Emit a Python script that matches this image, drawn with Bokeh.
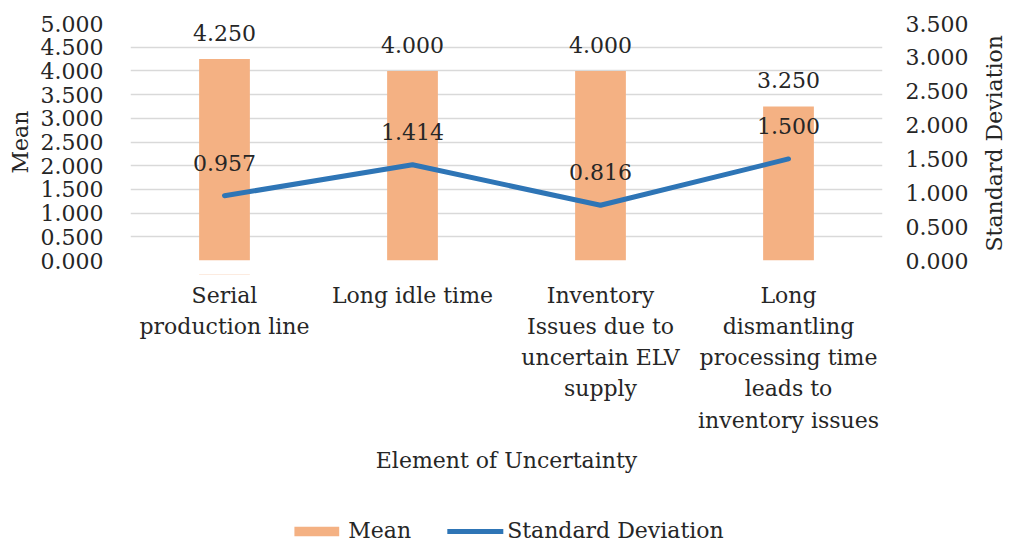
import math
from bokeh.plotting import figure
from bokeh.layouts import column, row
from bokeh.models import (ColumnDataSource, Range1d, LinearAxis, FactorRange, LabelSet,
                          Legend, LegendItem, FixedTicker, PrintfTickFormatter)
from bokeh.core.properties import value
from bokeh.embed import file_html
from bokeh.resources import INLINE

# ---- data ----
categories = [
    "Serial\nproduction line",
    "Long idle time",
    "Inventory\nIssues due to\nuncertain ELV\nsupply",
    "Long\ndismantling\nprocessing time\nleads to\ninventory issues",
]
mean_values = [4.250, 4.000, 4.000, 3.250]
sd_values = [0.957, 1.414, 0.816, 1.500]
left_ticks = [0.0, 0.5, 1.0, 1.5, 2.0, 2.5, 3.0, 3.5, 4.0, 4.5, 5.0]
right_ticks = [0.0, 0.5, 1.0, 1.5, 2.0, 2.5, 3.0, 3.5]
x_title = "Element of Uncertainty"
y_left_title = "Mean"
y_right_title = "Standard Deviation"

FONT = "DejaVu Serif"
FS = "22px"
TXT = "#262626"
BAR = "#F4B183"
LINE = "#2E75B6"

src = ColumnDataSource(dict(
    x=categories,
    mean=mean_values,
    sd=sd_values,
    mean_txt=["%.3f" % v for v in mean_values],
    sd_txt=["%.3f" % v for v in sd_values],
))

xr = FactorRange(*categories, factor_padding=0, range_padding=0)

# ---------------- main chart ----------------
p = figure(x_range=xr, y_range=Range1d(0, 5), x_axis_location=None,
           frame_width=752, frame_height=237, output_backend="svg", toolbar_location=None,
           min_border_left=130, min_border_right=96, min_border_top=23, min_border_bottom=14)
p.outline_line_color = None
p.extra_y_ranges = {"sd": Range1d(0, 3.5)}

bars = p.vbar(x="x", top="mean", width=0.27, source=src, fill_color=BAR, line_color=None)
ln = p.line(x="x", y="sd", source=src, y_range_name="sd", line_color=LINE, line_width=5,
            line_cap="round", line_join="round")

p.xgrid.grid_line_color = None
p.ygrid.grid_line_color = "#D9D9D9"
p.ygrid.grid_line_width = 1.6
p.ygrid.ticker = FixedTicker(ticks=left_ticks)

ya = p.yaxis[0]
ya.ticker = FixedTicker(ticks=left_ticks)
ya.formatter = PrintfTickFormatter(format="%.3f")
ya.axis_label = y_left_title

ra = LinearAxis(y_range_name="sd", ticker=FixedTicker(ticks=right_ticks),
                formatter=PrintfTickFormatter(format="%.3f"))
p.add_layout(ra, "right")

for ax in [ya, ra]:
    ax.axis_line_color = None
    ax.major_tick_line_color = None
    ax.minor_tick_line_color = None
    ax.major_label_text_font = FONT
    ax.major_label_text_font_size = FS
    ax.major_label_text_color = TXT
    ax.axis_label_text_font = FONT
    ax.axis_label_text_font_size = FS
    ax.axis_label_text_font_style = "normal"
    ax.axis_label_text_color = TXT

ya.major_label_standoff = 21
ya.axis_label_standoff = 5
ra.major_label_standoff = 17

lab_mean = LabelSet(x="x", y="mean", text="mean_txt", source=src, y_offset=26,
                    text_align="center", text_baseline="middle",
                    text_font=value(FONT), text_font_size=value(FS), text_color=TXT)
lab_sd = LabelSet(x="x", y="sd", text="sd_txt", source=src, y_range_name="sd", y_offset=33,
                  text_align="center", text_baseline="middle",
                  text_font=value(FONT), text_font_size=value(FS), text_color=TXT)
p.add_layout(lab_mean)
p.add_layout(lab_sd)

# ---------------- right axis title strip ----------------
pr = figure(x_range=Range1d(0, 32), y_range=Range1d(0, 274), x_axis_location=None,
            y_axis_location=None, frame_width=32, frame_height=274, output_backend="svg",
            toolbar_location=None, min_border=0)
pr.outline_line_color = None
pr.grid.grid_line_color = None
pr.text(x=16, y=46, text=[y_right_title], angle=math.pi / 2, text_align="left",
        text_baseline="middle", text_font=value(FONT), text_font_size=value(FS),
        text_color=TXT)

# ---------------- category labels, x title, legend ----------------
pb = figure(x_range=xr, y_range=Range1d(271, 0), x_axis_location=None, y_axis_location=None,
            frame_width=752, frame_height=271, output_backend="svg", toolbar_location=None,
            min_border_left=130, min_border_right=0, min_border_top=0, min_border_bottom=0)
pb.outline_line_color = None
pb.grid.grid_line_color = None
pb.text(x="x", y=8, text="x", source=src, text_align="center", text_baseline="top",
        text_line_height=1.25, text_font=value(FONT), text_font_size=value(FS),
        text_color=TXT)
pb.text(x=2.0, y=186, text=[x_title], text_align="center", text_baseline="middle",
        text_font=value(FONT), text_font_size=value(FS), text_color=TXT)

# legend swatches (zero-size, so nothing shows in the strip itself)
leg_bar = pb.vbar(x=[categories[0]], bottom=[-100], top=[-100], width=0.27,
                  fill_color=BAR, line_color=None)
leg_line = pb.line(x=[categories[0], categories[1]], y=[-100, -100], line_color=LINE,
                   line_width=5, line_cap="round")
legend = Legend(items=[LegendItem(label="Mean", renderers=[leg_bar]),
                       LegendItem(label="Standard Deviation", renderers=[leg_line])],
                orientation="horizontal", location="bottom_center",
                label_text_font=FONT, label_text_font_size=FS, label_text_color=TXT,
                glyph_width=56, glyph_height=12, label_standoff=4, spacing=36,
                border_line_color=None, background_fill_alpha=0, padding=0, margin=2)
pb.add_layout(legend, "center")

layout = column(row(p, pr), pb)
open("out.html", "w").write(file_html(layout, INLINE))
